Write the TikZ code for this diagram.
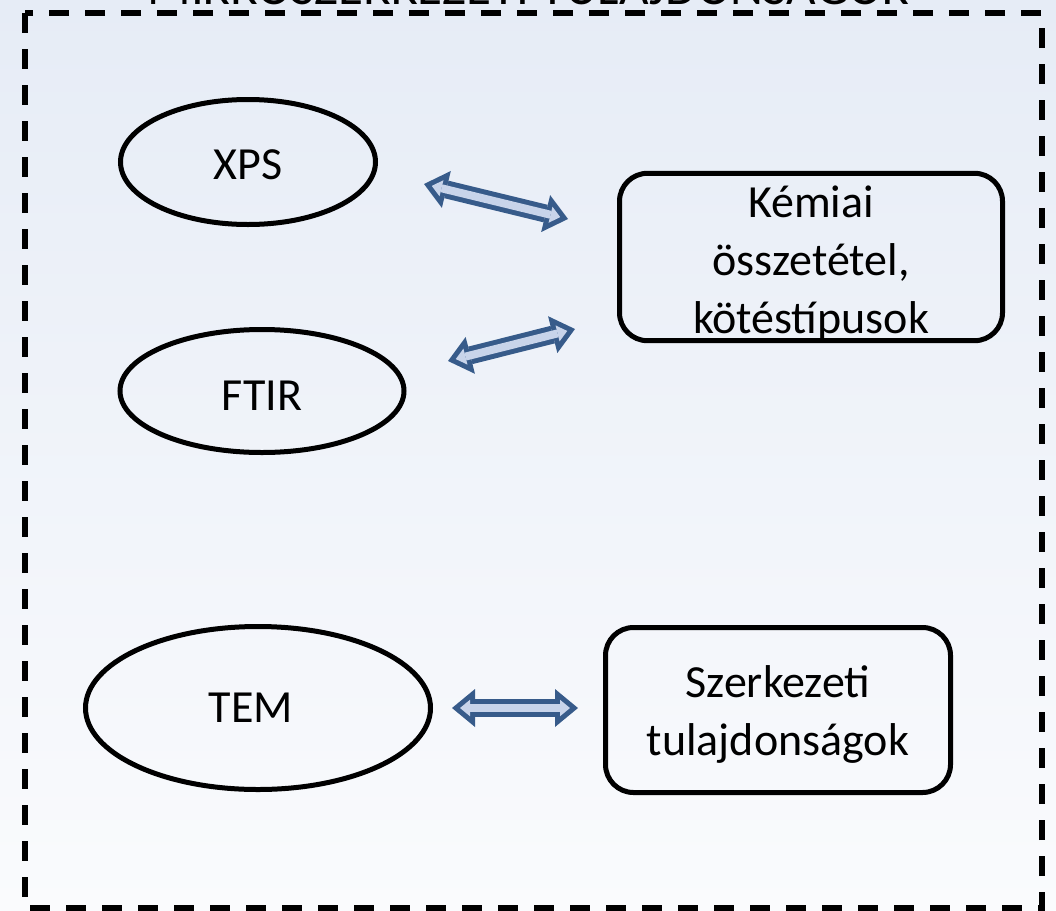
\documentclass[tikz,border=0pt]{standalone}
\usepackage{fontspec}
\setmainfont{Carlito}
\usetikzlibrary{shapes.geometric,arrows.meta}
\definecolor{bgtop}{HTML}{E6ECF6}
\definecolor{bgbot}{HTML}{FAFBFD}
\definecolor{arrowedge}{HTML}{375B8A}
\definecolor{arrowfill}{HTML}{C8D4EA}
\newcommand\blockarrow[2]{%
  \draw[arrowouter] (#1) -- (#2);
  \draw[arrowinner] (#1) -- (#2);}
\begin{document}
\begin{tikzpicture}[x=1pt,y=-1pt,
  txt/.style={font=\fontsize{46}{58}\selectfont, text=black, align=center},
  ell/.style={txt, ellipse, draw=black, line width=5pt, inner sep=0pt},
  box/.style={txt, rectangle, rounded corners=28pt, draw=black, line width=5pt, inner sep=0pt},
  frame/.style={draw=black, line width=5.5pt, dash pattern=on 20pt off 16pt},
  titletext/.style={font=\fontsize{51}{60}\selectfont, text=black, inner sep=0pt},
  arrowouter/.style={draw=arrowedge, line width=18pt,
    {Triangle[length=23pt,width=38pt,line width=0pt]}-{Triangle[length=23pt,width=38pt,line width=0pt]}},
  arrowinner/.style={draw=arrowfill, line width=8pt, shorten >=8pt, shorten <=8pt,
    {Triangle[length=10pt,width=16.5pt,line width=0pt]}-{Triangle[length=10pt,width=16.5pt,line width=0pt]}}
]
\useasboundingbox (0,0) rectangle (1056,910);
\clip (0,0) rectangle (1056,910);
\shade[top color=bgtop, bottom color=bgbot] (0,0) rectangle (1056,910);

\node[titletext, anchor=base] (title) at (528,5) {MIKROSZERKEZETI TULAJDONSÁGOK};
\draw[frame] (25,13) rectangle (1042,908);

\node[ell, minimum width=255pt, minimum height=125pt] (xps) at (248,162) {\rule{0pt}{36pt}XPS};
\node[ell, minimum width=284pt, minimum height=123pt] (ftir) at (262,391) {\rule{0pt}{38pt}FTIR};
\node[ell, minimum width=345pt, minimum height=163pt] (tem) at (258,708) {TEM\hspace{14pt}};

\node[box, minimum width=383pt, minimum height=165pt] (chem) at (811,257) {\rule{0pt}{44pt}Kémiai\\összetétel,\\kötéstípusok};
\node[box, minimum width=345pt, minimum height=165pt] (struct) at (778,710) {\rule{0pt}{41pt}Szerkezeti\\tulajdonságok};

\coordinate (a1) at (424,184);
\coordinate (b1) at (568,219);
\coordinate (a2) at (448,361);
\coordinate (b2) at (575,329);
\coordinate (a3) at (452,708);
\coordinate (b3) at (578,708);

\blockarrow{a1}{b1}
\blockarrow{a2}{b2}
\blockarrow{a3}{b3}
\end{tikzpicture}
\end{document}
